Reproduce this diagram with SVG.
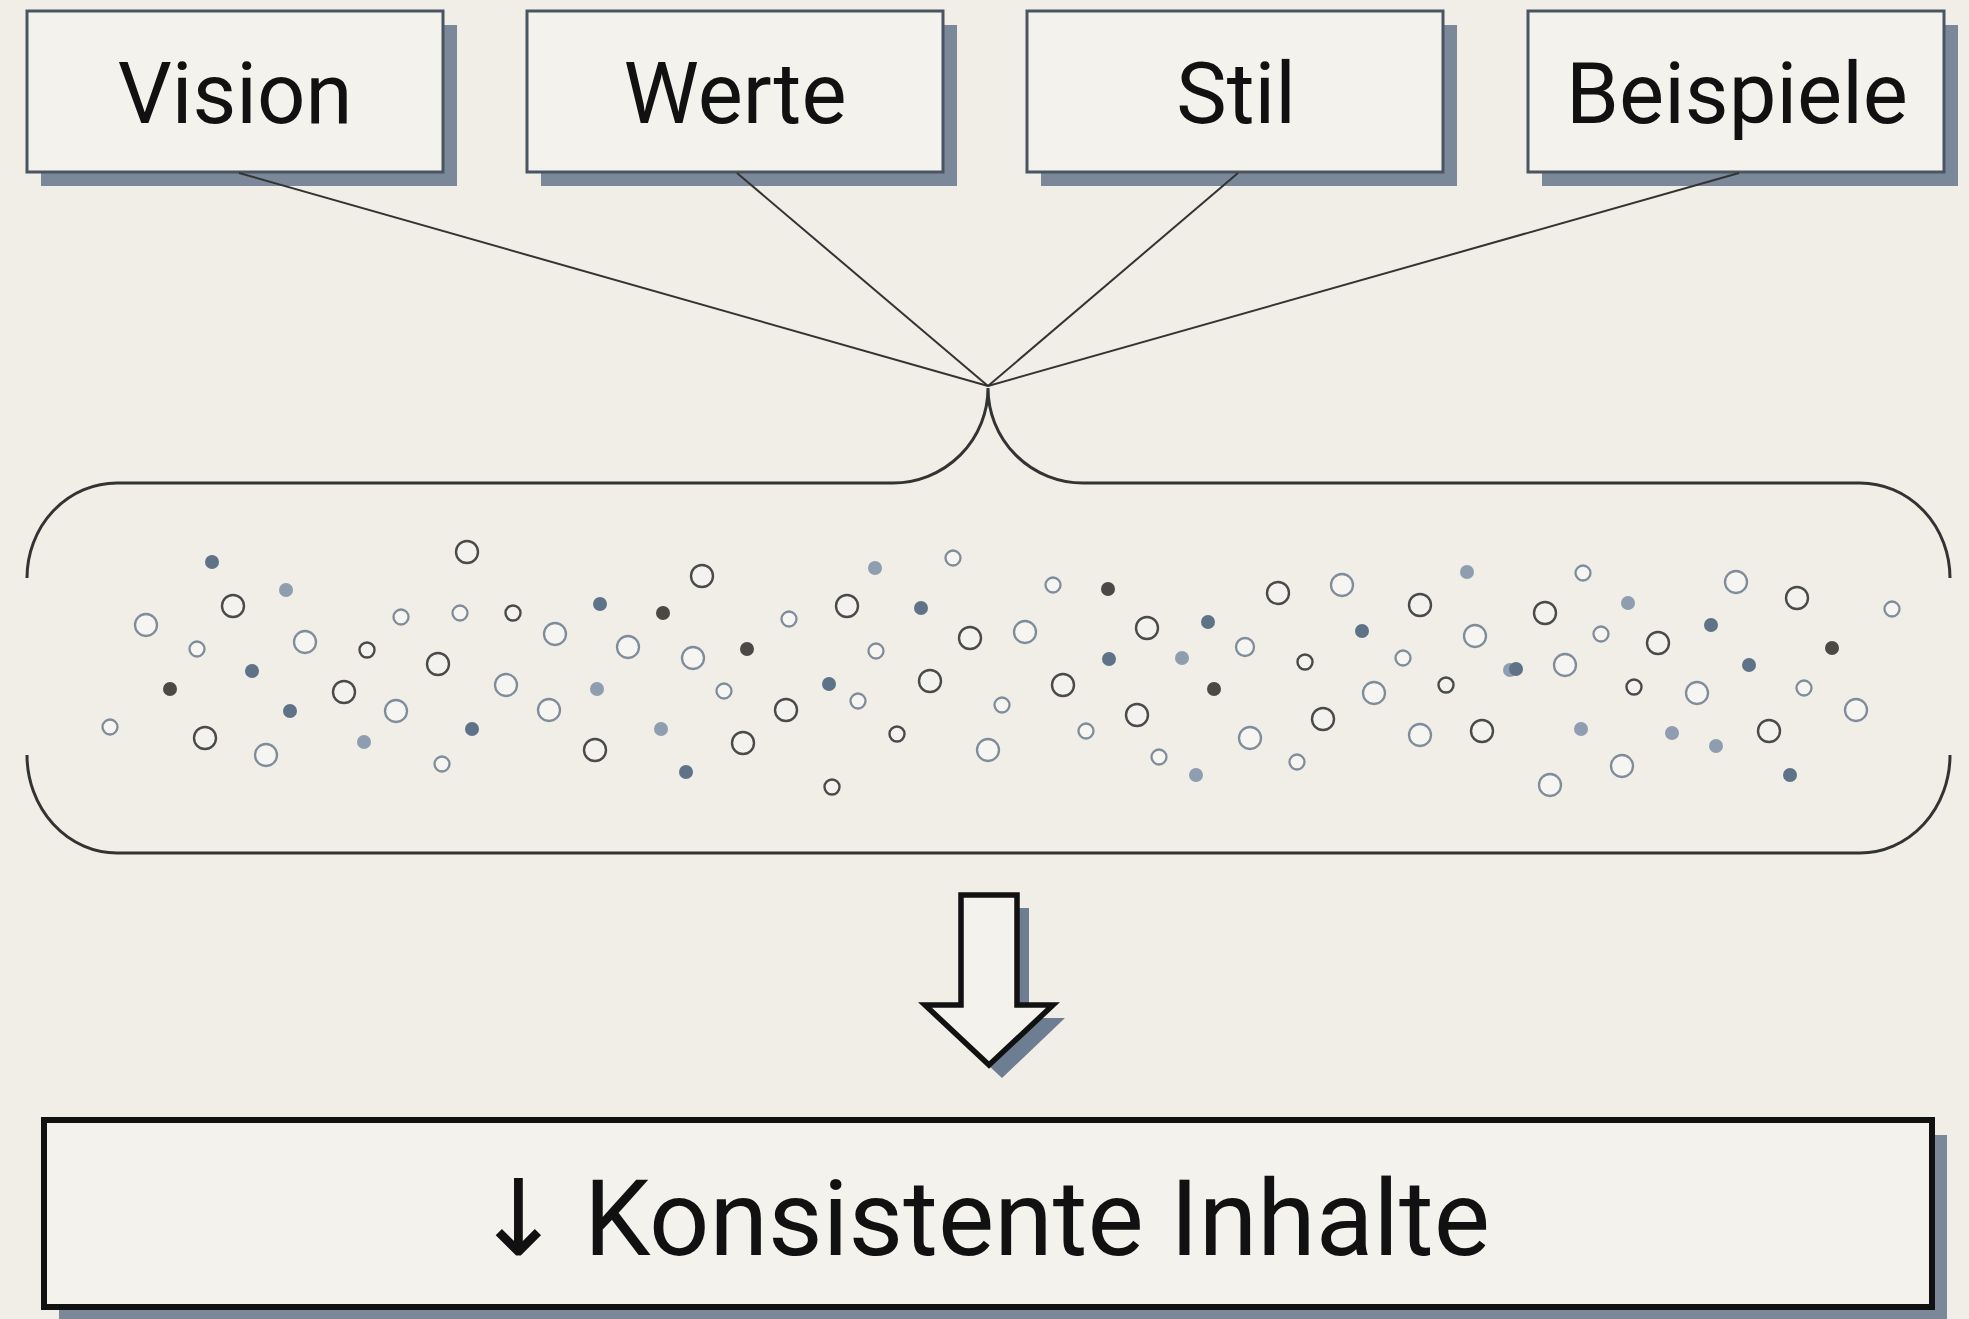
<svg xmlns="http://www.w3.org/2000/svg" width="1969" height="1319" viewBox="0 0 1969 1319">
<style>
.bg{fill:#f1eee7}
.box{fill:#f4f2ed;stroke:#4a5562;stroke-width:3}
.shadow{fill:#7a8899}
.lbl{font-family:Roboto,"Liberation Sans",sans-serif;font-size:85px;fill:#111;text-anchor:middle}
.conn{fill:none;stroke:#333;stroke-width:2}
.brk{fill:none;stroke:#333;stroke-width:3}
.hd{fill:#f4f2ee;stroke:#4a4a4a;stroke-width:2.4}
.hl{fill:#f6f5f2;stroke:#7f8c9a;stroke-width:2.3}
.fb{fill:#5f7388}
.fl{fill:#8e9db0}
.fd{fill:#4c4845}
.big{font-family:Roboto,"Liberation Sans",sans-serif;font-size:106px;fill:#111}
</style>
<rect class="bg" x="0" y="0" width="1969" height="1319"/>

<g id="node-vision">
<rect class="shadow" x="41" y="25" width="416" height="161"/>
<rect class="box" x="27" y="11" width="416" height="161"/>
<text class="lbl" x="235" y="123">Vision</text>
</g>
<g id="node-werte">
<rect class="shadow" x="541" y="25" width="416" height="161"/>
<rect class="box" x="527" y="11" width="416" height="161"/>
<text class="lbl" x="735" y="123">Werte</text>
</g>
<g id="node-stil">
<rect class="shadow" x="1041" y="25" width="416" height="161"/>
<rect class="box" x="1027" y="11" width="416" height="161"/>
<text class="lbl" x="1236" y="123">Stil</text>
</g>
<g id="node-beispiele">
<rect class="shadow" x="1542" y="25" width="416" height="161"/>
<rect class="box" x="1528" y="11" width="416" height="161"/>
<text class="lbl" x="1737" y="123">Beispiele</text>
</g>

<g id="connectors">
<line class="conn" x1="239" y1="173" x2="988" y2="386"/>
<line class="conn" x1="737" y1="173" x2="988" y2="386"/>
<line class="conn" x1="1238" y1="173" x2="988" y2="386"/>
<line class="conn" x1="1739" y1="173" x2="988" y2="386"/>
</g>

<g id="node-container">
<path class="brk" d="M27 578 A90 95 0 0 1 117 483 H893 A95 95 0 0 0 988 388 A95 95 0 0 0 1083 483 H1860 A90 95 0 0 1 1950 578"/>
<path class="brk" d="M27 755 A90 98 0 0 0 117 853 H1860 A90 98 0 0 0 1950 755"/>
<g id="dots">
<circle class="fb" cx="212" cy="562" r="7"/>
<circle class="fl" cx="286" cy="590" r="7"/>
<circle class="hd" cx="467" cy="552" r="11"/>
<circle class="hl" cx="146" cy="625" r="11"/>
<circle class="hd" cx="233" cy="606" r="11"/>
<circle class="hl" cx="197" cy="649" r="7.5"/>
<circle class="fb" cx="252" cy="671" r="7"/>
<circle class="hl" cx="305" cy="642" r="11"/>
<circle class="hl" cx="401" cy="617" r="7.5"/>
<circle class="hl" cx="460" cy="613" r="7.5"/>
<circle class="hd" cx="513" cy="613" r="7.5"/>
<circle class="fb" cx="600" cy="604" r="7"/>
<circle class="hl" cx="555" cy="634" r="11"/>
<circle class="hl" cx="628" cy="647" r="11"/>
<circle class="hd" cx="367" cy="650" r="7.5"/>
<circle class="hd" cx="438" cy="664" r="11"/>
<circle class="fd" cx="170" cy="689" r="7"/>
<circle class="hd" cx="344" cy="692" r="11"/>
<circle class="hl" cx="506" cy="685" r="11"/>
<circle class="fl" cx="597" cy="689" r="7"/>
<circle class="fb" cx="290" cy="711" r="7"/>
<circle class="hl" cx="396" cy="711" r="11"/>
<circle class="hl" cx="549" cy="710" r="11"/>
<circle class="hl" cx="110" cy="727" r="7.5"/>
<circle class="hd" cx="205" cy="738" r="11"/>
<circle class="hl" cx="266" cy="755" r="11"/>
<circle class="fl" cx="364" cy="742" r="7"/>
<circle class="fb" cx="472" cy="729" r="7"/>
<circle class="hl" cx="442" cy="764" r="7.5"/>
<circle class="hd" cx="595" cy="750" r="11"/>

<circle class="hd" cx="702" cy="576" r="11"/>
<circle class="fd" cx="663" cy="613" r="7"/>
<circle class="hl" cx="789" cy="619" r="7.5"/>
<circle class="fl" cx="875" cy="568" r="7"/>
<circle class="hl" cx="953" cy="558" r="7.5"/>
<circle class="hl" cx="1053" cy="585" r="7.5"/>
<circle class="hd" cx="847" cy="606" r="11"/>
<circle class="fb" cx="921" cy="608" r="7"/>
<circle class="hd" cx="970" cy="638" r="11"/>
<circle class="hl" cx="1025" cy="632" r="11"/>
<circle class="hl" cx="693" cy="658" r="11"/>
<circle class="fd" cx="747" cy="649" r="7"/>
<circle class="hl" cx="876" cy="651" r="7.5"/>
<circle class="hl" cx="724" cy="691" r="7.5"/>
<circle class="fb" cx="829" cy="684" r="7"/>
<circle class="hl" cx="858" cy="701" r="7.5"/>
<circle class="hd" cx="930" cy="681" r="11"/>
<circle class="hd" cx="1063" cy="685" r="11"/>
<circle class="hd" cx="786" cy="710" r="11"/>
<circle class="hl" cx="1002" cy="705" r="7.5"/>
<circle class="fl" cx="661" cy="729" r="7"/>
<circle class="hd" cx="743" cy="743" r="11"/>
<circle class="hd" cx="897" cy="734" r="7.5"/>
<circle class="hl" cx="988" cy="750" r="11"/>
<circle class="fb" cx="686" cy="772" r="7"/>
<circle class="hd" cx="832" cy="787" r="7.5"/>

<circle class="fd" cx="1108" cy="589" r="7"/>
<circle class="hd" cx="1278" cy="593" r="11"/>
<circle class="hl" cx="1342" cy="585" r="11"/>
<circle class="fl" cx="1467" cy="572" r="7"/>
<circle class="hd" cx="1147" cy="628" r="11"/>
<circle class="fb" cx="1208" cy="622" r="7"/>
<circle class="hd" cx="1420" cy="605" r="11"/>
<circle class="fb" cx="1362" cy="631" r="7"/>
<circle class="hl" cx="1475" cy="636" r="11"/>
<circle class="fb" cx="1109" cy="659" r="7"/>
<circle class="fl" cx="1182" cy="658" r="7"/>
<circle class="hl" cx="1245" cy="647" r="9"/>
<circle class="hd" cx="1305" cy="662" r="7.5"/>
<circle class="hl" cx="1403" cy="658" r="7.5"/>
<circle class="fd" cx="1214" cy="689" r="7"/>
<circle class="hl" cx="1374" cy="693" r="11"/>
<circle class="hd" cx="1446" cy="685" r="7.5"/>
<circle class="hd" cx="1137" cy="715" r="11"/>
<circle class="hd" cx="1323" cy="719" r="11"/>
<circle class="hl" cx="1086" cy="731" r="7.5"/>
<circle class="hl" cx="1250" cy="738" r="11"/>
<circle class="hl" cx="1420" cy="735" r="11"/>
<circle class="hd" cx="1482" cy="731" r="11"/>
<circle class="hl" cx="1159" cy="757" r="7.5"/>
<circle class="hl" cx="1297" cy="762" r="7.5"/>
<circle class="fl" cx="1196" cy="775" r="7"/>
<circle class="fl" cx="1510" cy="670" r="7"/>

<circle class="hl" cx="1583" cy="573" r="7.5"/>
<circle class="hl" cx="1736" cy="582" r="11"/>
<circle class="hd" cx="1797" cy="598" r="11"/>
<circle class="hl" cx="1892" cy="609" r="7.5"/>
<circle class="hd" cx="1545" cy="613" r="11"/>
<circle class="fl" cx="1628" cy="603" r="7"/>
<circle class="hl" cx="1601" cy="634" r="7.5"/>
<circle class="hd" cx="1658" cy="643" r="11"/>
<circle class="fb" cx="1711" cy="625" r="7"/>
<circle class="fd" cx="1832" cy="648" r="7"/>
<circle class="fb" cx="1516" cy="669" r="7"/>
<circle class="hl" cx="1565" cy="665" r="11"/>
<circle class="hd" cx="1634" cy="687" r="7.5"/>
<circle class="hl" cx="1697" cy="693" r="11"/>
<circle class="fb" cx="1749" cy="665" r="7"/>
<circle class="hl" cx="1804" cy="688" r="7.5"/>
<circle class="hl" cx="1856" cy="710" r="11"/>
<circle class="fl" cx="1581" cy="729" r="7"/>
<circle class="fl" cx="1672" cy="733" r="7"/>
<circle class="fl" cx="1716" cy="746" r="7"/>
<circle class="hd" cx="1769" cy="731" r="11"/>
<circle class="hl" cx="1622" cy="766" r="11"/>
<circle class="hl" cx="1550" cy="785" r="11"/>
<circle class="fb" cx="1790" cy="775" r="7"/>
</g>
</g>

<g id="node-arrow">
<path fill="#6d7e92" d="M973 908 H1029 V1018 H1065 L1002 1078 L937 1018 H973 Z"/>
<path fill="#f4f2ed" stroke="#111" stroke-width="5.5" stroke-linejoin="miter" d="M961 895 H1017 V1005 H1053 L989 1065 L925 1005 H961 Z"/>
</g>

<g id="node-result">
<rect class="shadow" x="59" y="1135" width="1888" height="190"/>
<rect fill="#f4f2ed" stroke="#111" stroke-width="6" x="44" y="1120" width="1888" height="187"/>
<text class="big" y="1255"><tspan x="474" font-family="'Noto Sans','DejaVu Sans',sans-serif">↓</tspan><tspan x="584">Konsistente Inhalte</tspan></text>
</g>
</svg>
